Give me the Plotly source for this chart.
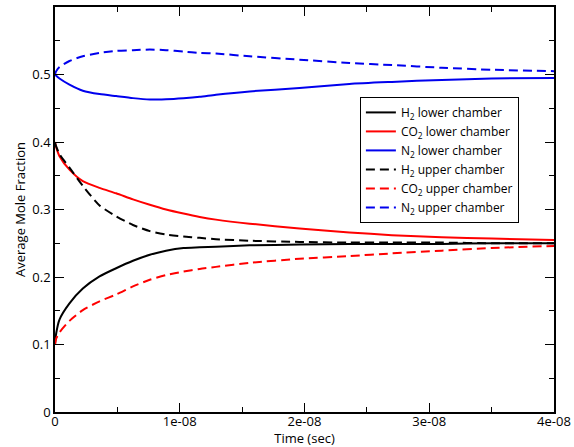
import plotly.graph_objects as go

# time in nanoseconds (converted to seconds below)
time_ns = [0, 0.1, 0.36, 1.16, 2.23, 3.57, 4.9, 6.25, 7.6, 8.9, 10.3, 11.6, 12.9,
           15.6, 19.6, 23.6, 27, 31, 35, 40]

h2_lower = [0.100, 0.117, 0.137, 0.161, 0.183, 0.201, 0.213, 0.224, 0.233, 0.239,
            0.243, 0.244, 0.245, 0.247, 0.248, 0.249, 0.249, 0.249, 0.250, 0.250]
co2_lower = [0.400, 0.392, 0.379, 0.359, 0.342, 0.332, 0.324, 0.315, 0.307, 0.300,
             0.294, 0.289, 0.285, 0.279, 0.272, 0.266, 0.262, 0.259, 0.257, 0.255]
n2_lower = [0.500, 0.498, 0.494, 0.485, 0.476, 0.471, 0.468, 0.465, 0.463, 0.4635,
            0.465, 0.467, 0.470, 0.475, 0.480, 0.486, 0.489, 0.492, 0.494, 0.495]
h2_upper = [0.399, 0.393, 0.382, 0.362, 0.335, 0.306, 0.290, 0.277, 0.268, 0.263,
            0.260, 0.258, 0.256, 0.2537, 0.252, 0.251, 0.251, 0.251, 0.250, 0.250]
co2_upper = [0.100, 0.109, 0.118, 0.135, 0.151, 0.164, 0.174, 0.186, 0.196, 0.203,
             0.208, 0.212, 0.215, 0.221, 0.227, 0.231, 0.235, 0.239, 0.243, 0.246]
n2_upper = [0.500, 0.505, 0.511, 0.520, 0.527, 0.532, 0.535, 0.536, 0.537, 0.536,
            0.534, 0.532, 0.531, 0.527, 0.522, 0.517, 0.514, 0.510, 0.507, 0.505]

x_tickvals = [0, 1e-8, 2e-8, 3e-8, 4e-8]
x_ticktext = ["0", "1e-08", "2e-08", "3e-08", "4e-08"]
y_tickvals = [0, 0.1, 0.2, 0.3, 0.4, 0.5]
y_ticktext = ["0", "0.1", "0.2", "0.3", "0.4", "0.5"]

t = [v * 1e-9 for v in time_ns]

series = [
    ("H<sub>2</sub> lower chamber", h2_lower, "black", "solid"),
    ("CO<sub>2</sub> lower chamber", co2_lower, "red", "solid"),
    ("N<sub>2</sub> lower chamber", n2_lower, "#0000ee", "solid"),
    ("H<sub>2</sub> upper chamber", h2_upper, "black", "9px,5px"),
    ("CO<sub>2</sub> upper chamber", co2_upper, "red", "9px,5px"),
    ("N<sub>2</sub> upper chamber", n2_upper, "#0000ee", "9px,5px"),
]

FONT = "Open Sans"
fig = go.Figure()
for name, vals, color, dash in series:
    fig.add_trace(go.Scatter(x=t, y=vals, mode="lines", name=name,
                             line=dict(color=color, width=2, dash=dash, shape="spline", smoothing=0.6)))

axis_common = dict(showline=True, linecolor="black", linewidth=1.5, mirror="allticks",
                   ticks="inside", ticklen=9, tickcolor="black", tickwidth=1.2,
                   showgrid=False, zeroline=False, automargin=False,
                   tickfont=dict(family=FONT, size=13, color="black"))

fig.update_layout(
    width=574, height=447,
    margin=dict(l=55, r=20, t=7, b=35),
    plot_bgcolor="white", paper_bgcolor="white",
    font=dict(family=FONT, size=12, color="black"),
    xaxis=dict(range=[0, 4e-8], tickvals=x_tickvals, ticktext=x_ticktext,
               ticklabelstandoff=-3,
               minor=dict(ticks="inside", ticklen=5, tickcolor="black", dtick=5e-9, tick0=0),
               title=dict(text="Time (sec)", font=dict(family=FONT, size=13), standoff=4),
               **axis_common),
    yaxis=dict(range=[0, 0.6], tickvals=y_tickvals, ticktext=y_ticktext,
               minor=dict(ticks="inside", ticklen=5, tickcolor="black", dtick=0.05, tick0=0),
               title=dict(text="Average Mole Fraction", font=dict(family=FONT, size=13), standoff=4),
               **axis_common),
    legend=dict(x=0.611, y=0.778, xanchor="left", yanchor="top",
                bordercolor="black", borderwidth=1, bgcolor="white",
                font=dict(family=FONT, size=12), itemwidth=30, tracegroupgap=0),
    showlegend=True,
)

fig.write_html("out.html", config={"displayModeBar": False},
               post_script="document.body.style.margin='0';")
